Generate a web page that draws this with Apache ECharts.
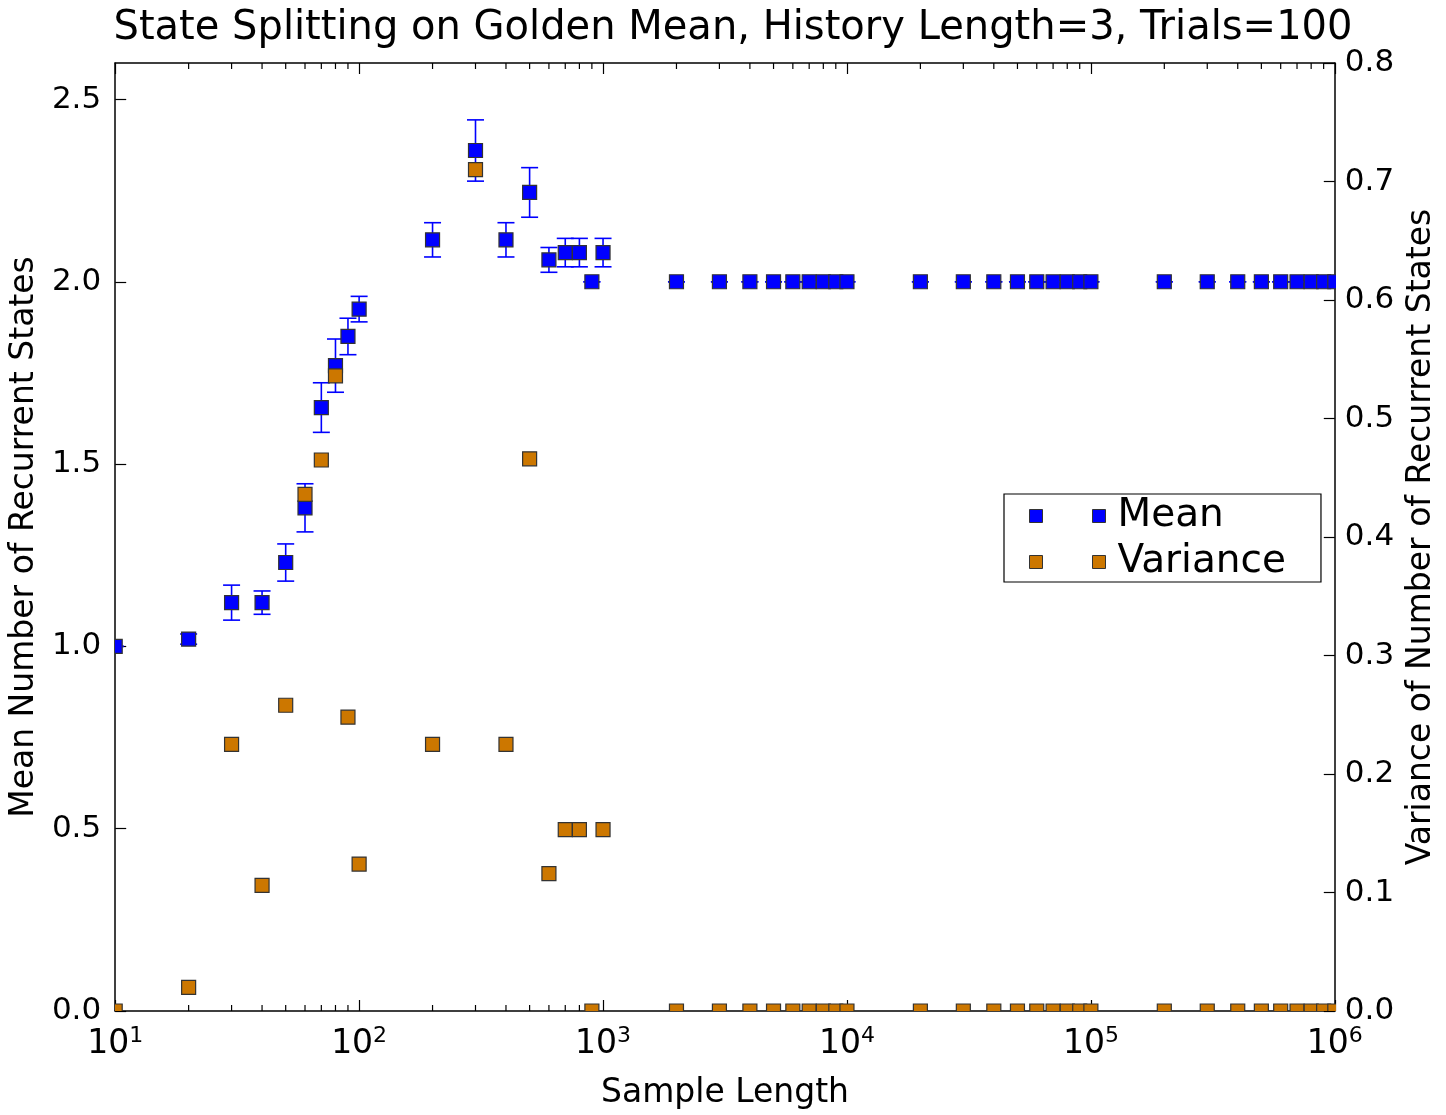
<!DOCTYPE html>
<html>
<head>
<meta charset="utf-8">
<script src="https://cdn.jsdelivr.net/npm/echarts@6/dist/echarts.min.js"></script>
<style>html,body{margin:0;padding:0;background:#fff}#c{width:1446px;height:1115px}</style>
</head>
<body>
<div id="c"></div>
<script>
// ---- data ----
const sampleLengths = [10,20,30,40,50,60,70,80,90,100,
  200,300,400,500,600,700,800,900,1000,
  2000,3000,4000,5000,6000,7000,8000,9000,10000,
  20000,30000,40000,50000,60000,70000,80000,90000,100000,
  200000,300000,400000,500000,600000,700000,800000,900000,1000000];
const meanValues = [1.00,1.02,1.12,1.12,1.23,1.38,1.655,1.77,1.85,1.925,
  2.115,2.36,2.115,2.245,2.06,2.08,2.08,2.00,2.08,
  2,2,2,2,2,2,2,2,2,
  2,2,2,2,2,2,2,2,2,
  2,2,2,2,2,2,2,2,2];
const meanErrors = [0,0.014,0.048,0.032,0.051,0.066,0.068,0.073,0.050,0.035,
  0.047,0.084,0.047,0.068,0.034,0.039,0.039,0,0.039,
  0,0,0,0,0,0,0,0,0,
  0,0,0,0,0,0,0,0,0,
  0,0,0,0,0,0,0,0,0];
const varianceValues = [0,0.02,0.225,0.106,0.258,0.436,0.465,0.536,0.248,0.124,
  0.225,0.71,0.225,0.466,0.116,0.153,0.153,0,0.153,
  0,0,0,0,0,0,0,0,0,
  0,0,0,0,0,0,0,0,0,
  0,0,0,0,0,0,0,0,0];
const leftTicks = ['0.0','0.5','1.0','1.5','2.0','2.5'];
const rightTicks = ['0.0','0.1','0.2','0.3','0.4','0.5','0.6','0.7','0.8'];

// minor tick positions of the log axis (2..9 x 10^k)
const minorTickValues = [];
for (let k = 1; k <= 5; k++) for (let m = 2; m <= 9; m++) minorTickValues.push([m * Math.pow(10, k)]);

const FONT = 'DejaVu Sans';
const BLUE = '#0000ff', ORANGE = '#cc7700', EDGE = '#333333';
const MARK = 14, CAP = 8.5;

const meanData = sampleLengths.map((x, i) => [x, meanValues[i], meanErrors[i]]);
const varData = sampleLengths.map((x, i) => [x, varianceValues[i]]);

const chart = echarts.init(document.getElementById('c'), null, {renderer: 'canvas'});

const option = {
  backgroundColor: '#ffffff',
  animation: false,
  title: {
    text: 'State Splitting on Golden Mean, History Length=3, Trials=100',
    left: 728, top: 4, textAlign: 'center',
    textStyle: {fontFamily: FONT, fontSize: 40, fontWeight: 'normal', color: '#000'}
  },
  legend: {
    orient: 'vertical', left: 1004, top: 494,
    padding: [2, 35, 0, 25], itemGap: 6,
    itemWidth: 76, itemHeight: 13,
    borderColor: '#000', borderWidth: 1.2, backgroundColor: '#fff',
    selectedMode: false,
    textStyle: {fontFamily: FONT, fontSize: 39, color: '#000', lineHeight: 40, padding: [0, 0, 0, 7]},
    data: [
      {name: 'Mean', icon: 'path://M0 0h13v13H0zM63 0h13v13H63z', itemStyle: {color: BLUE, borderColor: EDGE, borderWidth: 1}},
      {name: 'Variance', icon: 'path://M0 0h13v13H0zM63 0h13v13H63z', itemStyle: {color: ORANGE, borderColor: EDGE, borderWidth: 1}}
    ]
  },
  grid: {left: 115, right: 103, top: 63, bottom: 102, containLabel: false},
  xAxis: [{
    type: 'log', logBase: 10, min: 10, max: 1000000, position: 'bottom',
    name: 'Sample Length', nameLocation: 'middle', nameGap: 66,
    nameTextStyle: {fontFamily: FONT, fontSize: 33, color: '#000'},
    axisLine: {show: true, lineStyle: {color: '#000', width: 1.5}},
    axisTick: {show: true, inside: true, length: 11, lineStyle: {color: '#000', width: 1.2}},
    splitLine: {show: false},
    axisLabel: {
      margin: 14,
      formatter: v => '{b|10}{s|' + Math.round(Math.log10(v)) + '}',
      rich: {
        b: {fontFamily: FONT, fontSize: 33, color: '#000'},
        s: {fontFamily: FONT, fontSize: 22, color: '#000', padding: [0, 0, 16, 0]}
      }
    }
  }, {
    type: 'log', logBase: 10, min: 10, max: 1000000, position: 'top',
    axisLine: {show: true, onZero: false, lineStyle: {color: '#000', width: 1.5}},
    axisTick: {show: true, inside: true, length: 11, lineStyle: {color: '#000', width: 1.2}},
    axisLabel: {show: false}, splitLine: {show: false}
  }],
  yAxis: [{
    type: 'value', min: 0, max: 2.6, interval: 0.5, position: 'left',
    name: 'Mean Number of Recurrent States', nameLocation: 'middle', nameGap: 70, nameRotate: 90,
    nameTextStyle: {fontFamily: FONT, fontSize: 33, color: '#000'},
    axisLine: {show: true, lineStyle: {color: '#000', width: 1.5}},
    axisTick: {show: true, inside: true, length: 11, lineStyle: {color: '#000', width: 1.2}},
    splitLine: {show: false},
    axisLabel: {
      margin: 14, showMaxLabel: false,
      fontFamily: FONT, fontSize: 31, color: '#000',
      formatter: v => { const i = Math.round(v / 0.5); return Math.abs(v - i * 0.5) < 1e-9 ? leftTicks[i] : ''; }
    }
  }, {
    type: 'value', min: 0, max: 0.8, interval: 0.1, position: 'right',
    name: 'Variance of Number of Recurrent States', nameLocation: 'middle', nameGap: 63, nameRotate: 90,
    nameTextStyle: {fontFamily: FONT, fontSize: 33, color: '#000'},
    axisLine: {show: true, lineStyle: {color: '#000', width: 1.5}},
    axisTick: {show: true, inside: true, length: 11, lineStyle: {color: '#000', width: 1.2}},
    splitLine: {show: false},
    axisLabel: {
      margin: 10, fontFamily: FONT, fontSize: 31, color: '#000',
      formatter: v => rightTicks[Math.round(v * 10)]
    }
  }],
  series: [{
    name: 'minorTicks', type: 'custom', silent: true, xAxisIndex: 0, yAxisIndex: 0,
    data: minorTickValues, encode: {x: 0}, z: 1,
    renderItem: (params, api) => {
      const x = api.value(0);
      const b = api.coord([x, 0]), t = api.coord([x, 2.6]);
      return {type: 'group', children: [
        {type: 'line', shape: {x1: b[0], y1: b[1], x2: b[0], y2: b[1] - 6}, style: {stroke: '#000', lineWidth: 1.2}},
        {type: 'line', shape: {x1: t[0], y1: t[1], x2: t[0], y2: t[1] + 6}, style: {stroke: '#000', lineWidth: 1.2}}
      ]};
    }
  }, {
    name: 'Mean', type: 'custom', xAxisIndex: 0, yAxisIndex: 0, clip: true, z: 2,
    itemStyle: {color: BLUE},
    data: meanData, encode: {x: 0, y: 1},
    renderItem: (params, api) => {
      const x = api.value(0), y = api.value(1), e = api.value(2);
      const c = api.coord([x, y]), hi = api.coord([x, y + e]), lo = api.coord([x, y - e]);
      const ls = {stroke: BLUE, lineWidth: 1.6};
      return {type: 'group', children: [
        {type: 'line', shape: {x1: c[0], y1: hi[1], x2: c[0], y2: lo[1]}, style: ls},
        {type: 'line', shape: {x1: c[0] - CAP, y1: hi[1], x2: c[0] + CAP, y2: hi[1]}, style: ls},
        {type: 'line', shape: {x1: c[0] - CAP, y1: lo[1], x2: c[0] + CAP, y2: lo[1]}, style: ls},
        {type: 'rect', shape: {x: c[0] - MARK / 2, y: c[1] - MARK / 2, width: MARK, height: MARK},
          style: {fill: BLUE, stroke: EDGE, lineWidth: 1.2}}
      ]};
    }
  }, {
    name: 'Variance', type: 'custom', xAxisIndex: 0, yAxisIndex: 1, clip: true, z: 3,
    itemStyle: {color: ORANGE},
    data: varData, encode: {x: 0, y: 1},
    renderItem: (params, api) => {
      const c = api.coord([api.value(0), api.value(1)]);
      return {type: 'rect', shape: {x: c[0] - MARK / 2, y: c[1] - MARK / 2, width: MARK, height: MARK},
        style: {fill: ORANGE, stroke: EDGE, lineWidth: 1.2}};
    }
  }]
};
chart.setOption(option);
</script>
</body>
</html>
